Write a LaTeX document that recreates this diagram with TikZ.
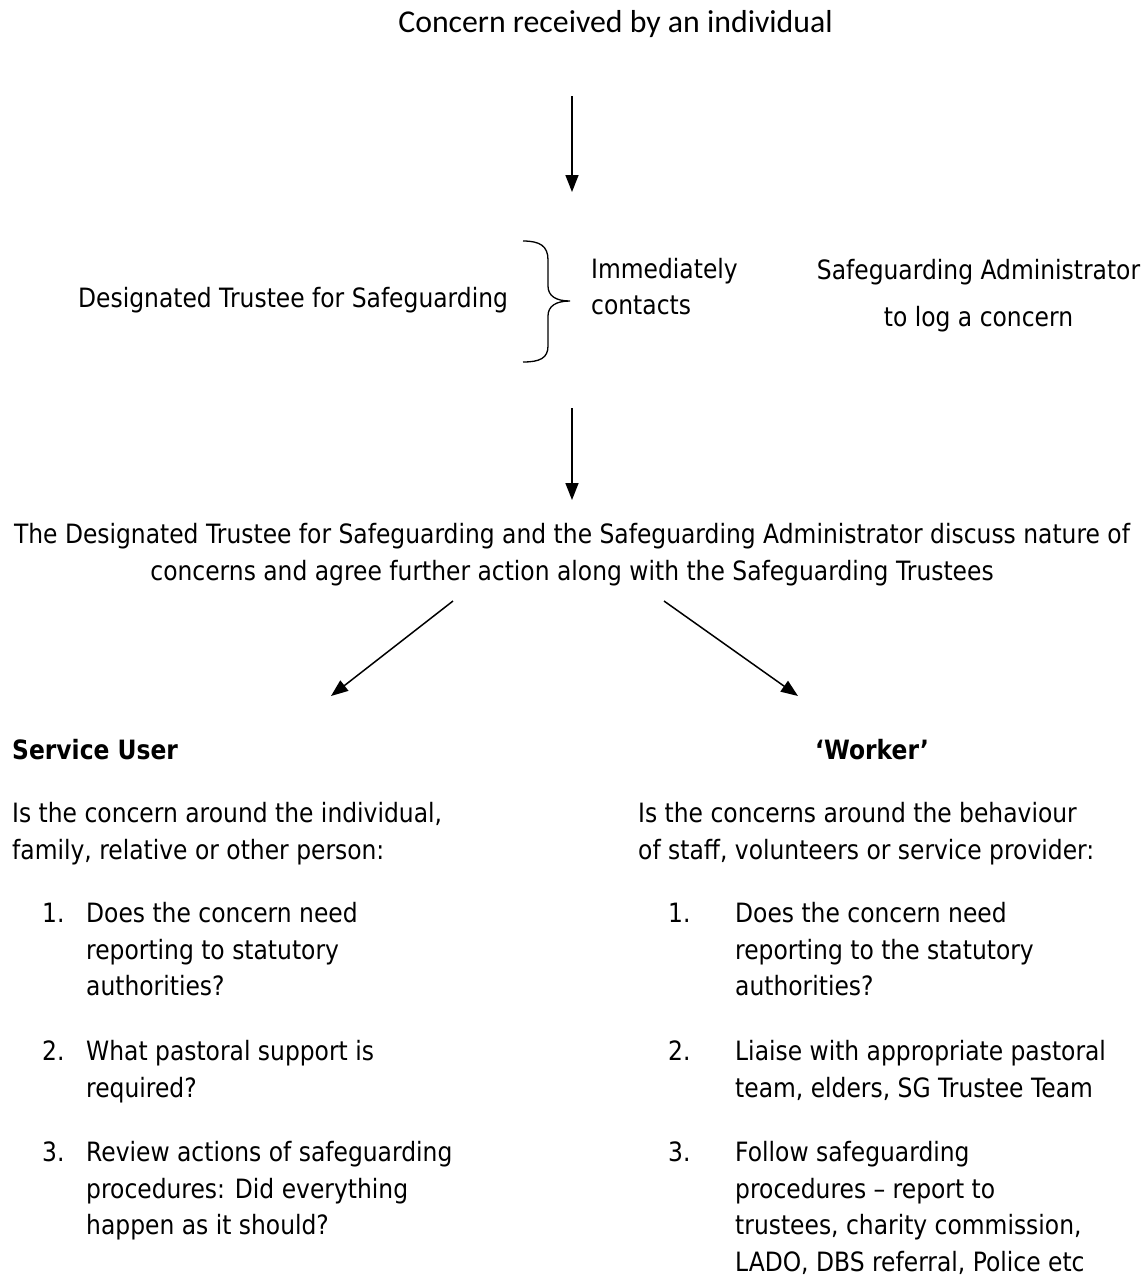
\documentclass[tikz,border=0pt]{standalone}
\usepackage{fontspec}
\setmainfont{DejaVu Sans}[FakeStretch=0.88]
\newfontfamily\topfont{Carlito}
\usetikzlibrary{arrows.meta}
\tikzset{
  txt/.style={inner sep=0pt, anchor=base west, font=\fontsize{26.6}{37}\selectfont},
  ctxt/.style={inner sep=0pt, anchor=base, font=\fontsize{26.6}{37}\selectfont},
  btxt/.style={txt, font=\fontsize{26.6}{37}\selectfont\bfseries},
  arr/.style={line width=1.5pt, -{Triangle[length=17pt,width=13pt]}},
}
\begin{document}
\begin{tikzpicture}[x=1pt,y=-1pt]
\useasboundingbox (0,0) rectangle (1143,1278);
\node[ctxt, font=\topfont\fontsize{31.8}{36}\selectfont] (top) at (615.5,32) {Concern received by an individual};
\coordinate (a1s) at (572,96);
\coordinate (a1e) at (572,192);
\draw[arr] (a1s) -- (a1e);

\node[txt] (dts) at (78,307.5) {Designated Trustee for Safeguarding};
\draw[line width=1.3pt] (523,241) .. controls (540,241) and (548,246) .. (548,260) -- (548,286) .. controls (548,296) and (556,301) .. (570,301) .. controls (556,301) and (548,306) .. (548,316) -- (548,346) .. controls (548,358) and (540,362) .. (523,362);
\node[txt] (imm1) at (591,278.5) {Immediately};
\node[txt] (imm2) at (591,314.5) {contacts};
\node[ctxt] (sa1) at (978.5,279.5) {Safeguarding Administrator};
\node[ctxt] (sa2) at (978.5,326.5) {to log a concern};

\coordinate (a2s) at (572,408);
\coordinate (a2e) at (572,500);
\draw[arr] (a2s) -- (a2e);

\node[ctxt] (disc1) at (572,543.5) {The Designated Trustee for Safeguarding and the Safeguarding Administrator discuss nature of};
\node[ctxt] (disc2) at (572,580) {concerns and agree further action along with the Safeguarding Trustees};

\coordinate (l1) at (453,601);
\coordinate (l2) at (331,696);
\coordinate (r1) at (664,601);
\coordinate (r2) at (798,696);
\draw[arr] (l1) -- (l2);
\draw[arr] (r1) -- (r2);

\node[btxt] (su) at (12,759.5) {Service User};
\node[btxt] (wk) at (815,759.5) {‘Worker’};

\node[txt] (lp1) at (12,822.5) {Is the concern around the individual,};
\node[txt] (lp2) at (12,859) {family, relative or other person:};

\node[txt] (ln1) at (42,922.5) {1.};
\node[txt] (l1a) at (86,922.5) {Does the concern need};
\node[txt] (l1b) at (86,959) {reporting to statutory};
\node[txt] (l1c) at (86,995.5) {authorities?};
\node[txt] (ln2) at (42,1060.5) {2.};
\node[txt] (l2a) at (86,1060.5) {What pastoral support is};
\node[txt] (l2b) at (86,1097) {required?};
\node[txt] (ln3) at (42,1161.5) {3.};
\node[txt] (l3a) at (86,1161.5) {Review actions of safeguarding};
\node[txt] (l3b) at (86,1198) {procedures: Did everything};
\node[txt] (l3c) at (86,1234.5) {happen as it should?};

\node[txt] (rp1) at (638,822.5) {Is the concerns around the behaviour};
\node[txt] (rp2) at (638,859) {of staff, volunteers or service provider:};

\node[txt] (rn1) at (668,922.5) {1.};
\node[txt] (r1a) at (735,922.5) {Does the concern need};
\node[txt] (r1b) at (735,959) {reporting to the statutory};
\node[txt] (r1c) at (735,995.5) {authorities?};
\node[txt] (rn2) at (668,1060.5) {2.};
\node[txt] (r2a) at (735,1060.5) {Liaise with appropriate pastoral};
\node[txt] (r2b) at (735,1097) {team, elders, SG Trustee Team};
\node[txt] (rn3) at (668,1161.5) {3.};
\node[txt] (r3a) at (735,1161.5) {Follow safeguarding};
\node[txt] (r3b) at (735,1198) {procedures – report to};
\node[txt] (r3c) at (735,1234.5) {trustees, charity commission,};
\node[txt] (r3d) at (735,1271) {LADO, DBS referral, Police etc};
\end{tikzpicture}
\end{document}
